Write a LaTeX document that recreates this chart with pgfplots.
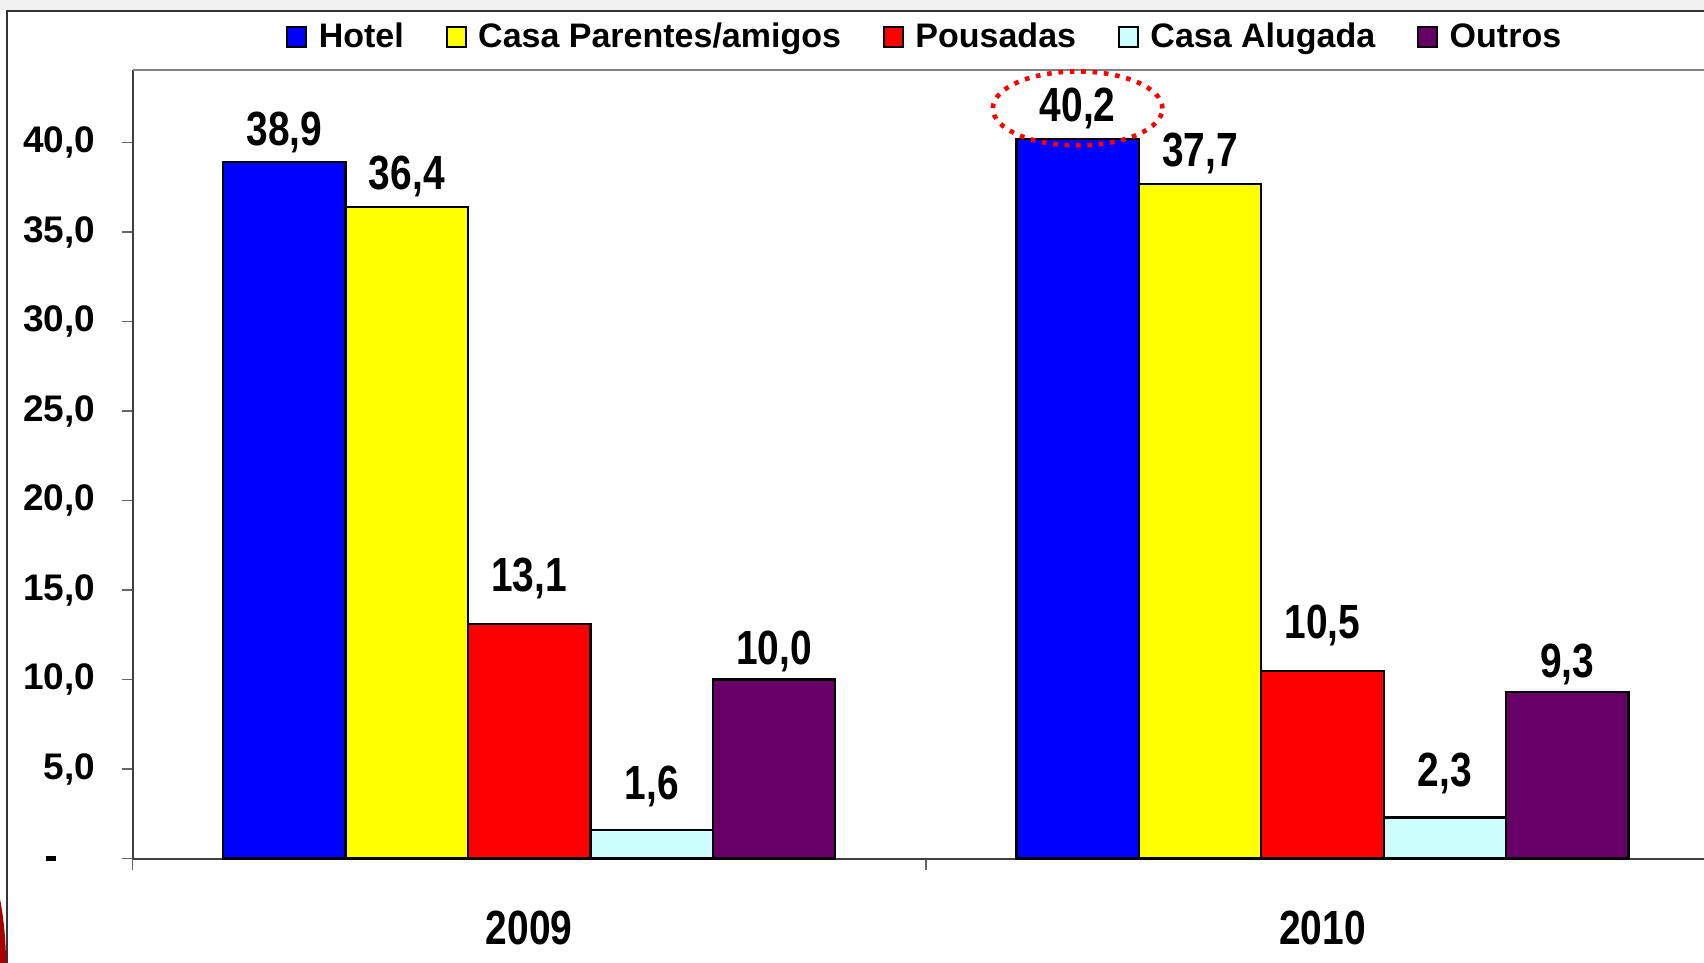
\documentclass[border=0pt]{standalone}
\usepackage{pgfplots}
\pgfplotsset{compat=1.18}
\usepackage{fontspec}
\setmainfont{Liberation Sans}
\newfontfamily\cond[FakeStretch=0.81]{Liberation Sans}
\definecolor{cHotel}{RGB}{0,0,255}
\definecolor{cCasa}{RGB}{255,255,0}
\definecolor{cPous}{RGB}{255,0,0}
\definecolor{cAlug}{RGB}{204,255,255}
\definecolor{cOutr}{RGB}{102,0,102}
\definecolor{frameg}{RGB}{128,128,128}
\begin{document}
\begin{tikzpicture}
\useasboundingbox (0,0) rectangle (852pt,481.5pt);
\fill[white] (0,0) rectangle (852pt,481.5pt);
\fill[black!6] (0,476.5pt) rectangle (852pt,481.5pt);
\fill[red!65!black] (0,0) -- (0,32pt) .. controls (2pt,22pt) and (3pt,10pt) .. (3pt,0) -- cycle;
\draw[black!80, line width=1pt] (3.4pt,-5pt) -- (3.4pt,475.75pt) -- (860pt,475.75pt);
\begin{axis}[
  at={(66.3pt,52.2pt)}, anchor=south west,
  scale only axis, width=793.2pt, height=394.5pt,
  xmin=-0.5, xmax=1.5, ymin=0, ymax=44.07,
  ybar=0pt, bar width=61.2pt,
  axis x line*=bottom, axis y line*=left,
  x axis line style={black!75, line width=1pt, -},
  y axis line style={black!75, line width=1pt, -},
  clip=false,
  tick align=outside, major tick length=5.5pt,
  tick style={black!60, line width=0.9pt},
  xtick={-0.5,0.5,1.5}, xticklabels={},
  extra x ticks={0,1}, extra x tick labels={2009,2010},
  extra x tick style={major tick length=0pt,
     xticklabel style={anchor=base, inner sep=0pt, yshift=-43pt,
        font=\cond\bfseries\fontsize{24}{24}\selectfont}},
  ytick={0,5,10,15,20,25,30,35,40},
  yticklabels={{\rule[-1.15pt]{5pt}{2.3pt}\hspace*{19.7pt}},{5,0},{10,0},{15,0},{20,0},{25,0},{30,0},{35,0},{40,0}},
  yticklabel style={anchor=east, inner sep=0pt, xshift=-13pt,
     font=\bfseries\fontsize{18.5}{20}\selectfont},
  nodes near coords={\pgfmathprintnumber[fixed, fixed zerofill, precision=1, use comma, assume math mode=true]{\pgfplotspointmeta}},
  every node near coord/.append style={anchor=base, inner sep=0pt,
     font=\cond\bfseries\fontsize{24}{24}\selectfont, text=black},
  legend columns=-1,
  legend style={at={(0.5,1.0413)}, anchor=center, draw=none, fill=none,
     font=\bfseries\fontsize{17}{20}\selectfont,
     /tikz/every odd column/.append style={column sep=3.7pt},
     /tikz/every even column/.append style={column sep=19pt}},
  legend image code/.code={\draw[#1, draw=black, line width=1pt] (0pt,-5pt) rectangle (9.5pt,5pt);},
]
\addplot[fill=cHotel, draw=black, line width=1.1pt, every node near coord/.append style={yshift=8.5pt}] coordinates {(0,38.9) (1,40.2)};
\addplot[fill=cCasa, draw=black, line width=1.1pt, every node near coord/.append style={yshift=8.5pt}] coordinates {(0,36.4) (1,37.7)};
\addplot[fill=cPous, draw=black, line width=1.1pt, every node near coord/.append style={yshift=16.3pt}] coordinates {(0,13.1) (1,10.5)};
\addplot[fill=cAlug, draw=black, line width=1.1pt, every node near coord/.append style={yshift=15.3pt}] coordinates {(0,1.6) (1,2.3)};
\addplot[fill=cOutr, draw=black, line width=1.1pt, every node near coord/.append style={yshift=7.3pt}] coordinates {(0,10.0) (1,9.3)};
\legend{Hotel, Casa Parentes/amigos, Pousadas, Casa Alugada, Outros}
\draw[frameg, line width=1pt] (rel axis cs:0,1) -- (rel axis cs:1,1) -- (rel axis cs:1,0);
\draw[red, line width=2.3pt, dash pattern=on 2.3pt off 3.4pt] (axis cs:0.6914,41.9) ellipse [x radius=42.4pt, y radius=18.5pt];
\end{axis}
\end{tikzpicture}
\end{document}
